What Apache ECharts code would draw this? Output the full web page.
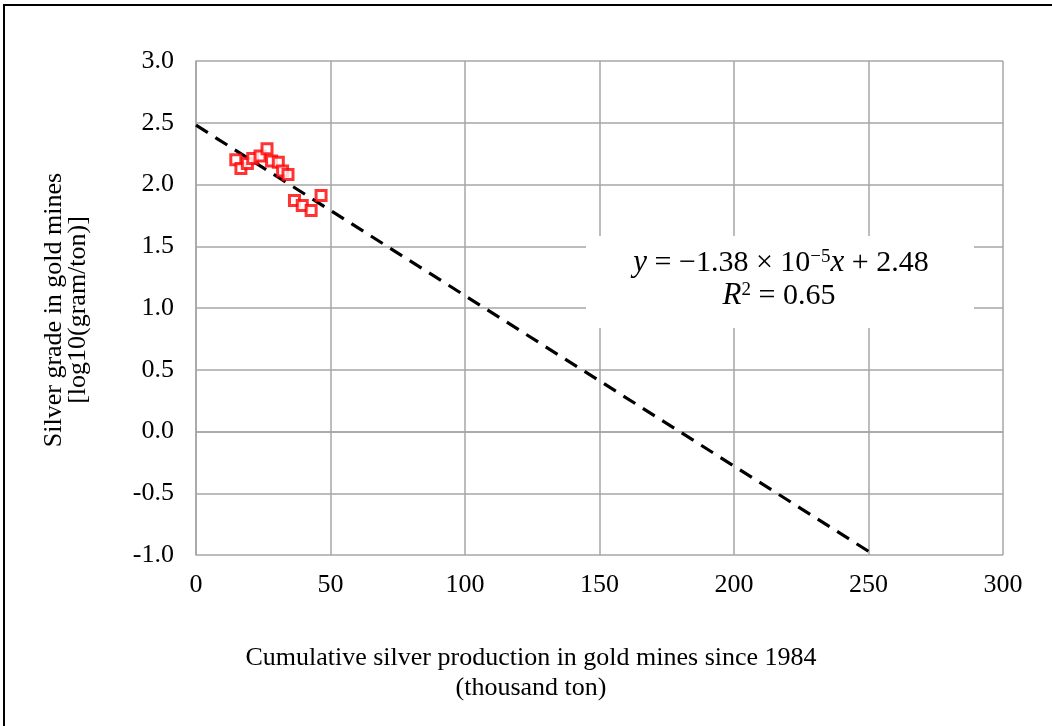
<!DOCTYPE html>
<html>
<head>
<meta charset="utf-8">
<script src="https://cdn.jsdelivr.net/npm/echarts@6/dist/echarts.min.js"></script>
<style>
  html, body { margin: 0; padding: 0; background: #fff; }
  #chart { width: 1052px; height: 726px; }
</style>
</head>
<body>
<div id="chart"></div>
<script>
// Cumulative silver production (thousand ton) and log10 silver grade (g/t)
const cumProduction = [14.8, 16.7, 19.1, 21.1, 23.8, 26.4, 28.1, 30.6, 32.2, 34.2, 36.6, 39.5, 42.8, 46.5];
const logGrade      = [2.20, 2.13, 2.17, 2.21, 2.23, 2.29, 2.19, 2.18, 2.11, 2.08, 1.87, 1.83, 1.79, 1.91];

// Regression reported on the chart: y = -1.38e-5 x + 2.48 (x in ton)
const slopePerTon = -1.38e-5;
const intercept = 2.48;
const rSquared = 0.65;

const xTicks = { min: 0, max: 300, interval: 50 };
const yTicks = { min: -1.0, max: 3.0, interval: 0.5 };

// Trend line in thousand-ton units, drawn until it reaches the lower axis bound
const slope = slopePerTon * 1000;
const xEnd = (yTicks.min - intercept) / slope;
const trend = [[0, intercept], [xEnd, yTicks.min]];

const chart = echarts.init(document.getElementById('chart'));
const serif = '"Liberation Serif", "Times New Roman", serif';
const gridColor = '#a6a6a6';

chart.setOption({
  animation: false,
  backgroundColor: '#fff',
  grid: { left: 196, top: 61, right: 49, bottom: 171 },
  xAxis: {
    type: 'value', min: xTicks.min, max: xTicks.max, interval: xTicks.interval,
    axisLine: { show: true, lineStyle: { color: gridColor, width: 1.5 } },
    axisTick: { show: false },
    splitLine: { show: true, lineStyle: { color: gridColor, width: 1.5 } },
    axisLabel: { color: '#000', fontFamily: serif, fontSize: 26, margin: 17 }
  },
  yAxis: {
    type: 'value', min: yTicks.min, max: yTicks.max, interval: yTicks.interval,
    axisLine: { show: true, lineStyle: { color: gridColor, width: 1.5 } },
    axisTick: { show: false },
    splitLine: { show: true, lineStyle: { color: gridColor, width: 1.5 } },
    axisLabel: {
      color: '#000', fontFamily: serif, fontSize: 26, margin: 22,
      formatter: v => v.toFixed(1)
    }
  },
  graphic: [
    // outer frame
    { type: 'rect', z: 0, silent: true,
      shape: { x: 4, y: 5, width: 1060, height: 740 },
      style: { fill: 'none', stroke: '#000', lineWidth: 2 } },
    // equation box
    { type: 'rect', z: 50, silent: true,
      shape: { x: 586, y: 236, width: 388, height: 92 },
      style: { fill: '#fff', stroke: 'none' } },
    { type: 'text', z: 51, silent: true, x: 781, y: 263,
      style: {
        text: '{i|y} = −1.38 × 10{sup|−5}{i|x} + 2.48',
        font: '30px ' + serif, fill: '#000', align: 'center', verticalAlign: 'middle',
        rich: {
          i: { fontStyle: 'italic', fontFamily: serif, fontSize: 31 },
          sup: { fontSize: 19, fontFamily: serif, padding: [0, 0, 12, 0] }
        }
      } },
    { type: 'text', z: 51, silent: true, x: 779, y: 296,
      style: {
        text: '{i|R}{sup|2} = 0.65',
        font: '30px ' + serif, fill: '#000', align: 'center', verticalAlign: 'middle',
        rich: {
          i: { fontStyle: 'italic', fontFamily: serif, fontSize: 31 },
          sup: { fontSize: 19, fontFamily: serif, padding: [0, 0, 12, 0] }
        }
      } },
    // axis titles
    { type: 'text', silent: true, x: 531, y: 673,
      style: {
        text: 'Cumulative silver production in gold mines since 1984\n(thousand ton)',
        font: '26px ' + serif, fill: '#000', align: 'center', verticalAlign: 'middle',
        lineHeight: 30
      } },
    { type: 'text', silent: true, x: 66, y: 310, rotation: Math.PI / 2,
      style: {
        text: 'Silver grade in gold mines\n[log10(gram/ton)]',
        font: '26px ' + serif, fill: '#000', align: 'center', verticalAlign: 'middle',
        lineHeight: 24
      } }
  ],
  series: [
    {
      type: 'line', data: trend, showSymbol: false, z: 3,
      lineStyle: { color: '#000', width: 3.2, type: [14, 9] }
    },
    {
      type: 'scatter', z: 4,
      data: cumProduction.map((x, i) => [x, logGrade[i]]),
      symbol: 'rect', symbolSize: 10,
      itemStyle: { color: '#fff', borderColor: '#ff0000', borderWidth: 3 }
    }
  ]
});
</script>
</body>
</html>
